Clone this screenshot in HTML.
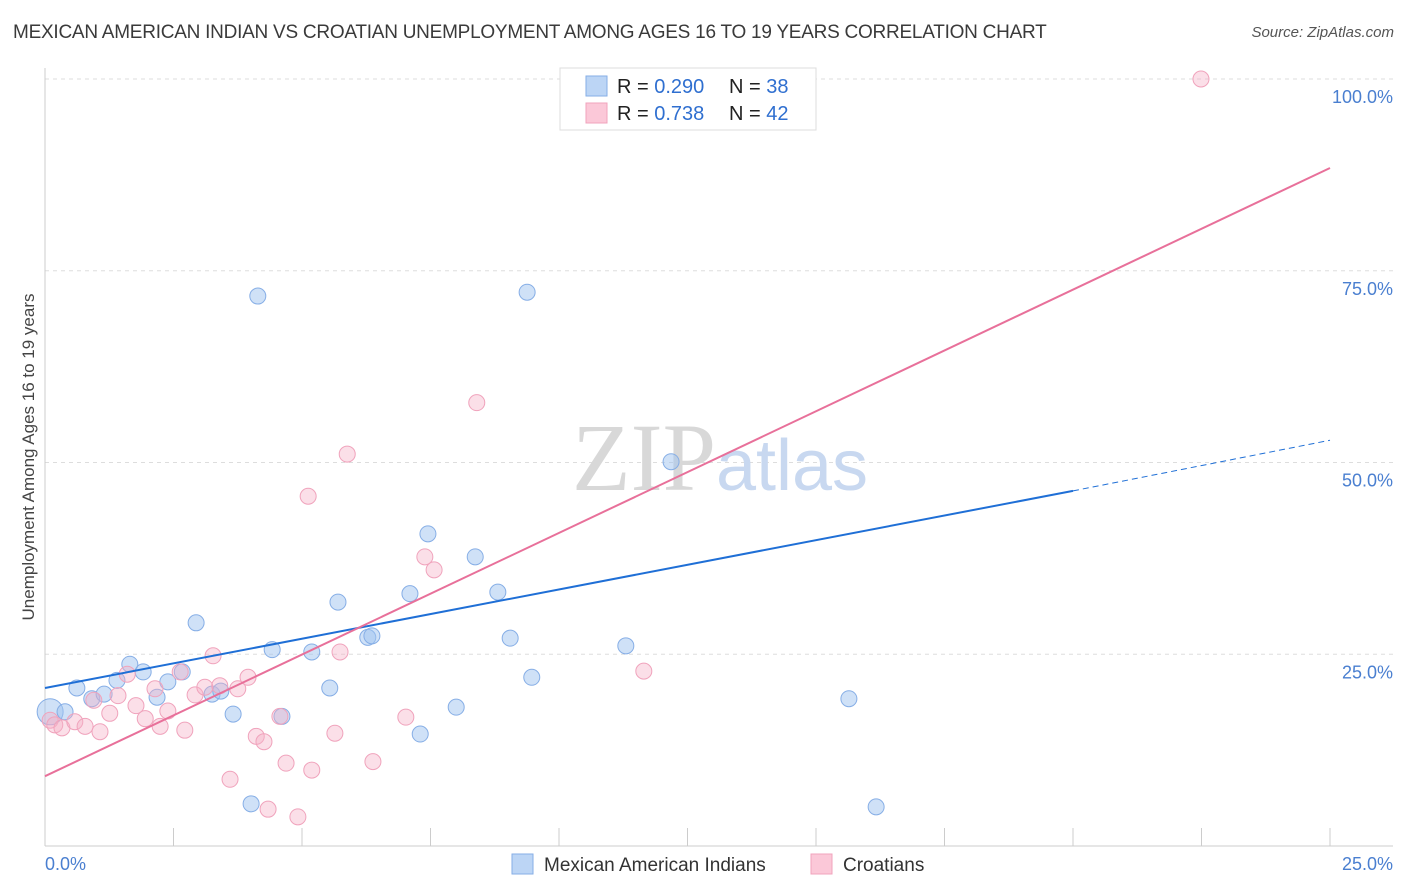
<!DOCTYPE html>
<html><head><meta charset="utf-8"><style>
body{margin:0;background:#fff;font-family:"Liberation Sans",sans-serif;}
#c{position:relative;width:1406px;height:892px;overflow:hidden}
</style></head><body>
<div id="c">
<div style="position:absolute;left:13px;top:22px;font-size:19px;color:#3a3a3a;letter-spacing:-0.25px">MEXICAN AMERICAN INDIAN VS CROATIAN UNEMPLOYMENT AMONG AGES 16 TO 19 YEARS CORRELATION CHART</div>
<div style="position:absolute;right:12px;top:24px;font-size:15px;color:#555;font-style:italic">Source: ZipAtlas.com</div>
<svg id="s" width="1406" height="892" style="position:absolute;left:0;top:0"></svg>
</div>
<script>
const blueX=[0.10,0.39,0.62,0.91,1.15,1.40,1.65,1.91,2.18,2.39,2.67,2.94,3.25,3.42,3.66,4.01,4.14,4.42,4.61,5.19,5.54,5.70,6.28,6.36,7.10,7.30,7.45,8.00,8.37,8.81,9.05,9.38,9.47,11.30,11.67,12.18,15.64,16.17];
const blueY=[17.5,17.5,20.6,19.2,19.8,21.6,23.7,22.7,19.4,21.4,22.7,29.1,19.8,20.2,17.2,5.5,71.7,25.6,16.9,25.3,20.6,31.8,27.2,27.4,32.9,14.6,40.7,18.1,37.7,33.1,27.1,72.2,22.0,26.1,100,50.1,19.2,5.1];
const pinkX=[0.10,0.19,0.33,0.58,0.78,0.95,1.07,1.26,1.42,1.60,1.77,1.95,2.14,2.24,2.39,2.63,2.72,2.92,3.11,3.27,3.40,3.60,3.75,3.95,4.11,4.26,4.34,4.57,4.69,4.92,5.12,5.19,5.64,5.74,5.88,6.38,7.02,7.39,7.57,8.40,11.65,22.49];
const pinkY=[16.4,15.8,15.4,16.2,15.6,19.0,14.9,17.3,19.6,22.4,18.3,16.6,20.5,15.6,17.6,22.7,15.1,19.7,20.7,24.8,20.9,8.7,20.5,22.0,14.3,13.6,4.8,16.9,10.8,3.8,45.6,9.9,14.7,25.3,51.1,11.0,16.8,37.7,36.0,57.8,22.8,100];
const blueTrend=[20.6,46.3,52.9]; // at x=0,20,25
const pinkTrend=[9.1,88.4]; // at x=0,25
const yTicks=[25,50,75,100];
const yTickLabels=["25.0%","50.0%","75.0%","100.0%"];
const xTickVals=[0,2.5,5,7.5,10,12.5,15,17.5,20,22.5,25];

const S=document.getElementById('s'),NS='http://www.w3.org/2000/svg';
const X=v=>45+v*51.4, Y=v=>846-v*7.67;
function mk(t,a,p){const e=document.createElementNS(NS,t);for(const k in a)e.setAttribute(k,a[k]);(p||S).appendChild(e);return e;}
yTicks.forEach((t,i)=>{
 const g=mk('line',{x1:45,x2:1393,y1:Y(t),y2:Y(t),stroke:'#ddd','stroke-dasharray':'4,4'});
 
 
 const l=mk('text',{x:1393,y:Y(t)+24,'text-anchor':'end','font-size':18,fill:'#4a7fd0'});
 l.textContent=yTickLabels[i];
 
 
});
const ax=mk('line',{x1:45,x2:1393,y1:846,y2:846,stroke:'#ccc'});


const ay=mk('line',{x1:45,x2:45,y1:68,y2:846,stroke:'#ccc'});


xTickVals.forEach(v=>{if(v==0)return;const t=mk('line',{x1:X(v),x2:X(v),y1:828,y2:846,stroke:'#ccc'});
 
 });
[["0.0%",45,'start'],["25.0%",1393,'end']].forEach(a=>{const t=mk('text',{x:a[1],y:870,'text-anchor':a[2],'font-size':18,fill:'#4a7fd0'});t.textContent=a[0];
 
 });
const yt=mk('text',{x:34,y:457,'text-anchor':'middle','font-size':17,fill:'#444',transform:'rotate(-90 34 457)'});
yt.textContent='Unemployment Among Ages 16 to 19 years';


const wm=mk('text',{x:720,y:490,'text-anchor':'middle','font-size':96,fill:'#d8d8d8','font-family':'Liberation Serif'});
wm.innerHTML='ZIP<tspan fill="#c8d8f0" font-family="Liberation Sans" font-size="72">atlas</tspan>';


blueX.forEach((x,i)=>{const c=mk('circle',{cx:X(x),cy:Y(blueY[i]),r:i==0?13:8,fill:'rgba(160,195,240,0.5)',stroke:'#86aee6','stroke-width':1});
 
 });
pinkX.forEach((x,i)=>{const c=mk('circle',{cx:X(x),cy:Y(pinkY[i]),r:8,fill:'rgba(245,175,198,0.4)',stroke:'#f0a3bc','stroke-width':1});
 
 });
const bl=mk('line',{x1:X(0),y1:Y(blueTrend[0]),x2:X(20),y2:Y(blueTrend[1]),stroke:'#1f6fd6','stroke-width':2});


const bd=mk('line',{x1:X(20),y1:Y(blueTrend[1]),x2:X(25),y2:Y(blueTrend[2]),stroke:'#1f6fd6','stroke-width':1,'stroke-dasharray':'6,4'});


const pl=mk('line',{x1:X(0),y1:Y(pinkTrend[0]),x2:X(25),y2:Y(pinkTrend[1]),stroke:'#e8709a','stroke-width':2});


const lg=mk('g',{});


mk('rect',{x:560,y:68,width:256,height:62,fill:'#fff',stroke:'#ddd'},lg);
[[86,'#bcd5f5','#86aee6','0.290','38'],[113,'#fbc8d8','#f0a3bc','0.738','42']].forEach(r=>{
 mk('rect',{x:586,y:r[0]-10,width:21,height:20,fill:r[1],stroke:r[2]},lg);
 const t=mk('text',{x:617,y:r[0]+7,'font-size':20,fill:'#222'},lg);
 t.innerHTML='R = <tspan fill="#2f6fd0">'+r[3]+'</tspan><tspan x="729">N = </tspan><tspan fill="#2f6fd0">'+r[4]+'</tspan>';
});
[[512,'#bcd5f5','#86aee6','Mexican American Indians','legend-entry-mexican-american-indians'],[811,'#fbc8d8','#f0a3bc','Croatians','legend-entry-croatians']].forEach(r=>{
 const g=mk('g',{});
 
 
 mk('rect',{x:r[0],y:854,width:21,height:20,fill:r[1],stroke:r[2]},g);
 const t=mk('text',{x:r[0]+32,y:871,'font-size':19,fill:'#333'},g);t.textContent=r[3];
});
</script>
</body></html>
